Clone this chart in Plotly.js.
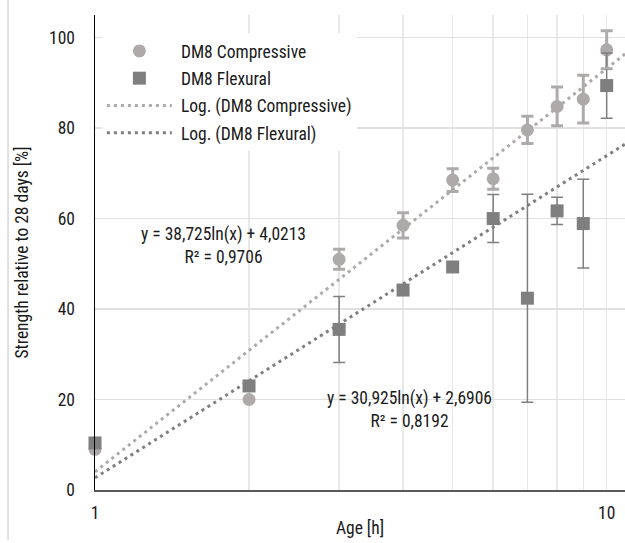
<!DOCTYPE html>
<html>
<head>
<meta charset="utf-8">
<script src="https://cdn.plot.ly/plotly-3.0.1.min.js"></script>
<style>html,body{margin:0;padding:0;background:#fff;}#chart{width:625px;height:543px;}</style>
</head>
<body>
<div id="chart"></div>
<script>
// Data
const ageHours = [1, 2, 3, 4, 5, 6, 7, 8, 9, 10];
const compressive = [9, 20, 51, 58.5, 68.5, 68.8, 79.6, 84.8, 86.4, 97.3];
const compressiveErr = [0, 0, 2.2, 2.8, 2.5, 2.3, 3, 4.3, 5.3, 4.2];
const flexural = [10.4, 23, 35.5, 44.2, 49.3, 60, 42.4, 61.7, 58.9, 89.4];
const flexuralErr = [0, 0, 7.3, 0, 0, 5.3, 23, 3, 9.8, 7.2];
const xTickVals = [1, 2, 3, 4, 5, 6, 7, 8, 9, 10];
const xTickText = ['1', '', '', '', '', '', '', '', '', '10'];
const yTickVals = [0, 20, 40, 60, 80, 100];
// Trendline coefficients (from the chart's equations): y = a*ln(x) + b
const compTrend = {a: 38.725, b: 4.0213};
const flexTrend = {a: 30.925, b: 2.6906};
const trendX = [1, 10.86];
const eqComp = 'y = 38,725ln(x) + 4,0213<br>R² = 0,9706';
const eqFlex = 'y = 30,925ln(x) + 2,6906<br>R² = 0,8192';

const FONT = '"Liberation Sans Narrow", "Arial Narrow", "Roboto Condensed", "Liberation Sans", sans-serif';
const cLight = '#aeaaaa';
const cDark = '#7f7f7f';
const txt = '#1a1a1a';
const pad = '\u00a0';

const traces = [
  {
    x: ageHours, y: compressive, type: 'scatter', mode: 'markers', name: pad + 'DM8 Compressive',
    legendgroup: 'a', cliponaxis: false,
    marker: {symbol: 'circle', size: 13, color: cLight},
    error_y: {type: 'data', array: compressiveErr, visible: true, color: cLight, thickness: 3, width: 6}
  },
  {
    x: ageHours, y: flexural, type: 'scatter', mode: 'markers', name: pad + 'DM8 Flexural',
    legendgroup: 'b', cliponaxis: false,
    marker: {symbol: 'square', size: 13, color: cDark},
    error_y: {type: 'data', array: flexuralErr, visible: true, color: cDark, thickness: 1.5, width: 6}
  },
  {
    x: trendX, y: trendX.map(v => compTrend.a * Math.log(v) + compTrend.b),
    type: 'scatter', mode: 'lines', name: pad + 'Log. (DM8 Compressive)', legendgroup: 'c',
    line: {color: cLight, width: 3, dash: '3px,4px'}
  },
  {
    x: trendX, y: trendX.map(v => flexTrend.a * Math.log(v) + flexTrend.b),
    type: 'scatter', mode: 'lines', name: pad + 'Log. (DM8 Flexural)', legendgroup: 'd',
    line: {color: cDark, width: 3, dash: '3px,4px'}
  }
];

const layout = {
  width: 625, height: 543,
  margin: {l: 95, r: 0, t: 15, b: 53},
  paper_bgcolor: '#fff', plot_bgcolor: '#fff',
  font: {family: FONT, size: 17.5, color: txt},
  showlegend: true,
  legend: {
    x: 0.013, y: 0.962, xanchor: 'left', yanchor: 'top',
    bgcolor: '#fff', borderwidth: 0, itemwidth: 65,
    font: {family: FONT, size: 17.5, color: txt},
    traceorder: 'grouped', tracegroupgap: 1.5
  },
  xaxis: {
    type: 'log', range: [0, 1.0358],
    tickvals: xTickVals, ticktext: xTickText,
    ticks: 'outside', ticklen: 6, tickcolor: 'rgba(0,0,0,0)',
    showgrid: true, gridcolor: '#e8e8e8', gridwidth: 1.5,
    showline: true, linecolor: '#595959', linewidth: 1.5,
    zeroline: false,
    title: {text: 'Age [h]', standoff: 0, font: {family: FONT, size: 17.5, color: txt}},
    tickfont: {family: FONT, size: 17.5, color: txt}
  },
  yaxis: {
    range: [0, 105],
    tickvals: yTickVals,
    ticks: 'outside', ticklen: 15, tickcolor: 'rgba(0,0,0,0)',
    showgrid: true, gridcolor: '#e0e0e0', gridwidth: 1.5,
    showline: true, linecolor: '#000', linewidth: 1.5,
    zeroline: false,
    title: {text: 'Strength relative to 28 days [%]', standoff: 16, font: {family: FONT, size: 17.5, color: txt}},
    tickfont: {family: FONT, size: 17.5, color: txt}
  },
  annotations: [
    {xref: 'x', yref: 'y', x: 0.252, y: 54, text: eqComp, showarrow: false, align: 'center',
     font: {family: FONT, size: 17.5, color: txt}},
    {xref: 'x', yref: 'y', x: 0.6156, y: 17.8, text: eqFlex, showarrow: false, align: 'center',
     font: {family: FONT, size: 17.5, color: txt}}
  ],
  shapes: [
    {type: 'line', xref: 'paper', yref: 'paper', x0: -0.164, x1: -0.164, y0: 1.04, y1: -0.105,
     line: {color: '#d9d9d9', width: 1.5}}
  ]
};

Plotly.newPlot('chart', traces, layout, {displayModeBar: false, staticPlot: true});
</script>
</body>
</html>
